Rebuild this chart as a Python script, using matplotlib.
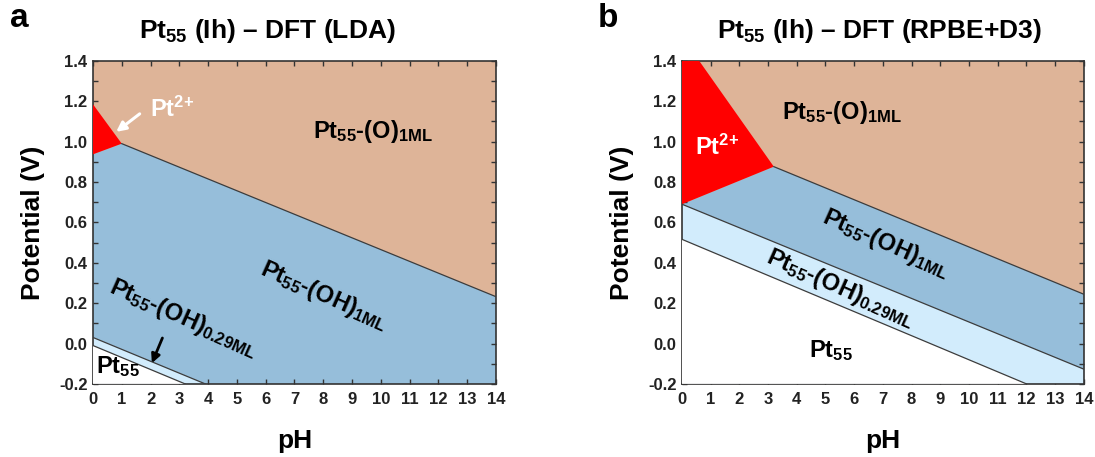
"""
Pourbaix diagrams for Pt55 (Ih) cluster: LDA vs RPBE+D3
"""

import matplotlib
matplotlib.use('Agg')
import matplotlib.pyplot as plt
from matplotlib.ticker import MultipleLocator

plt.rcParams['font.family'] = ['Liberation Sans', 'DejaVu Sans']
plt.rcParams['font.weight'] = 'bold'
plt.rcParams['mathtext.fontset'] = 'custom'
plt.rcParams['mathtext.rm'] = 'Liberation Sans:bold'
plt.rcParams['mathtext.it'] = 'Liberation Sans:bold'
plt.rcParams['mathtext.bf'] = 'Liberation Sans:bold'

PH_MIN, PH_MAX = 0, 14
E_MIN, E_MAX = -0.2, 1.4

# ---- panel a (LDA) phase boundaries: (pH, E) end points ----
a_pt2_o_ph = [0.0, 1.0]
a_pt2_o_E = [1.185, 0.99]
a_pt2_oh_ph = [0.0, 1.0]
a_pt2_oh_E = [0.937, 0.99]
a_o_oh_ph = [1.0, 14.0]
a_o_oh_E = [0.99, 0.232]
a_oh_oh029_ph = [0.0, 3.9]
a_oh_oh029_E = [0.03, -0.2]
a_oh029_pt_ph = [0.0, 3.2]
a_oh029_pt_E = [-0.01, -0.2]

# ---- panel b (RPBE+D3) phase boundaries ----
b_pt2_o_ph = [0.6, 3.2]
b_pt2_o_E = [1.4, 0.876]
b_pt2_oh_ph = [0.0, 3.2]
b_pt2_oh_E = [0.69, 0.876]
b_o_oh_ph = [3.2, 14.0]
b_o_oh_E = [0.876, 0.244]
b_oh_oh029_ph = [0.0, 14.0]
b_oh_oh029_E = [0.69, -0.127]
b_oh029_pt_ph = [0.0, 12.0]
b_oh029_pt_E = [0.516, -0.2]

C_O = '#DEB498'
C_OH = '#96BEDA'
C_OH029 = '#D2ECFC'
C_PT2 = '#FF0000'
C_LINE = '#3c3c3c'


def below(ph, E):
    """polygon from a boundary down to the bottom of the axes"""
    xs = list(ph) + [ph[-1], ph[0]]
    ys = list(E) + [E_MIN, E_MIN]
    return xs, ys


def style_axes(ax):
    ax.set_xlim(PH_MIN, PH_MAX)
    ax.set_ylim(E_MIN, E_MAX)
    ax.xaxis.set_major_locator(MultipleLocator(1))
    ax.yaxis.set_major_locator(MultipleLocator(0.2))
    ax.yaxis.set_minor_locator(MultipleLocator(0.1))
    ax.tick_params(which='both', direction='in', top=True, right=True,
                   length=3.5, width=1, labelsize=12, color='#333333',
                   labelcolor='#222222')
    ax.tick_params(axis='x', pad=6)
    ax.tick_params(axis='y', pad=4)
    for lab in ax.get_xticklabels() + ax.get_yticklabels():
        lab.set_fontweight('bold')
    for sp in ax.spines.values():
        sp.set_linewidth(1.2)
        sp.set_color('#333333')
    ax.yaxis.set_major_formatter(matplotlib.ticker.FormatStrFormatter('%.1f'))
    ax.set_xlabel('pH', fontsize=19, fontweight='bold', labelpad=16)
    ax.set_ylabel('Potential (V)', fontsize=19, fontweight='bold', labelpad=10)


fig = plt.figure(figsize=(10.95, 4.57), dpi=100)
ax_a = fig.add_axes([0.0849, 0.160, 0.368, 0.7068])
ax_b = fig.add_axes([0.6228, 0.160, 0.367, 0.7068])

# ---------------- panel a ----------------
ax = ax_a
ax.set_facecolor(C_O)
xs, ys = below(a_pt2_oh_ph[:1] + a_o_oh_ph, a_pt2_oh_E[:1] + a_o_oh_E)
ax.fill(xs, ys, color=C_OH, lw=0, zorder=1)
ax.fill(*below(a_oh_oh029_ph, a_oh_oh029_E), color=C_OH029, lw=0, zorder=2)
ax.fill(*below(a_oh029_pt_ph, a_oh029_pt_E), color='white', lw=0, zorder=3)
ax.fill(a_pt2_o_ph + a_pt2_oh_ph[::-1], a_pt2_o_E + a_pt2_oh_E[::-1],
        color=C_PT2, lw=0, zorder=4)
for ph, E in [(a_o_oh_ph, a_o_oh_E), (a_oh_oh029_ph, a_oh_oh029_E),
              (a_oh029_pt_ph, a_oh029_pt_E)]:
    ax.plot(ph, E, color=C_LINE, lw=0.9, zorder=5)

ax.text(9.72, 1.05, 'Pt$_{55}$-(O)$_{1ML}$', fontsize=17, ha='center', va='center', zorder=6)
ax.text(2.74, 1.16, 'Pt$^{2{+}}$', fontsize=17, color='white', ha='center', va='center', zorder=6)
ax.annotate('', xy=(0.73, 1.04), xytext=(1.7, 1.146),
            arrowprops=dict(arrowstyle='-|>', color='white', lw=2.2, mutation_scale=14),
            zorder=6)
ax.text(8.04, 0.24, 'Pt$_{55}$-(OH)$_{1ML}$', fontsize=17, rotation=-24,
        ha='center', va='center', rotation_mode='anchor', zorder=6)
ax.text(3.13, 0.124, 'Pt$_{55}$-(OH)$_{0.29ML}$', fontsize=17, rotation=-24,
        ha='center', va='center', rotation_mode='anchor', zorder=6)
ax.text(0.85, -0.113, 'Pt$_{55}$', fontsize=17, ha='center', va='center', zorder=6)
ax.annotate('', xy=(2.01, -0.11), xytext=(2.45, 0.04),
            arrowprops=dict(arrowstyle='-|>', color='black', lw=2.0, mutation_scale=13),
            zorder=6)
style_axes(ax)

# ---------------- panel b ----------------
ax = ax_b
ax.set_facecolor(C_O)
xs, ys = below(b_pt2_oh_ph + b_o_oh_ph[1:], b_pt2_oh_E + b_o_oh_E[1:])
ax.fill(xs, ys, color=C_OH, lw=0, zorder=1)
ax.fill(*below(b_oh_oh029_ph, b_oh_oh029_E), color=C_OH029, lw=0, zorder=2)
ax.fill(*below(b_oh029_pt_ph, b_oh029_pt_E), color='white', lw=0, zorder=3)
ax.fill([b_pt2_oh_ph[0], b_pt2_oh_ph[0]] + b_pt2_o_ph,
        [b_pt2_oh_E[0], E_MAX] + b_pt2_o_E,
        color=C_PT2, lw=0, zorder=4)
for ph, E in [(b_o_oh_ph, b_o_oh_E), (b_oh_oh029_ph, b_oh_oh029_E),
              (b_oh029_pt_ph, b_oh029_pt_E)]:
    ax.plot(ph, E, color=C_LINE, lw=0.9, zorder=5)

ax.text(5.57, 1.144, 'Pt$_{55}$-(O)$_{1ML}$', fontsize=17, ha='center', va='center', zorder=6)
ax.text(1.22, 0.973, 'Pt$^{2{+}}$', fontsize=17, color='white', ha='center', va='center', zorder=6)
ax.text(7.09, 0.496, 'Pt$_{55}$-(OH)$_{1ML}$', fontsize=17, rotation=-24,
        ha='center', va='center', rotation_mode='anchor', zorder=6)
ax.text(5.52, 0.275, 'Pt$_{55}$-(OH)$_{0.29ML}$', fontsize=17, rotation=-24,
        ha='center', va='center', rotation_mode='anchor', zorder=6)
ax.text(5.19, -0.037, 'Pt$_{55}$', fontsize=17, ha='center', va='center', zorder=6)
style_axes(ax)

# panel letters and titles (figure pixel positions)
W, H = 1095, 457
fig.text(10 / W, 1 - 27 / H, 'a', fontsize=24, fontweight='bold', va='baseline')
fig.text(598 / W, 1 - 27 / H, 'b', fontsize=24, fontweight='bold', va='baseline')
fig.text(267 / W, 1 - 38 / H, 'Pt$_{55}$ (Ih) – DFT (LDA)', fontsize=19,
         fontweight='bold', ha='center', va='baseline')
fig.text(879 / W, 1 - 38 / H, 'Pt$_{55}$ (Ih) – DFT (RPBE+D3)', fontsize=19,
         fontweight='bold', ha='center', va='baseline')

fig.savefig('out.png', dpi=100)
